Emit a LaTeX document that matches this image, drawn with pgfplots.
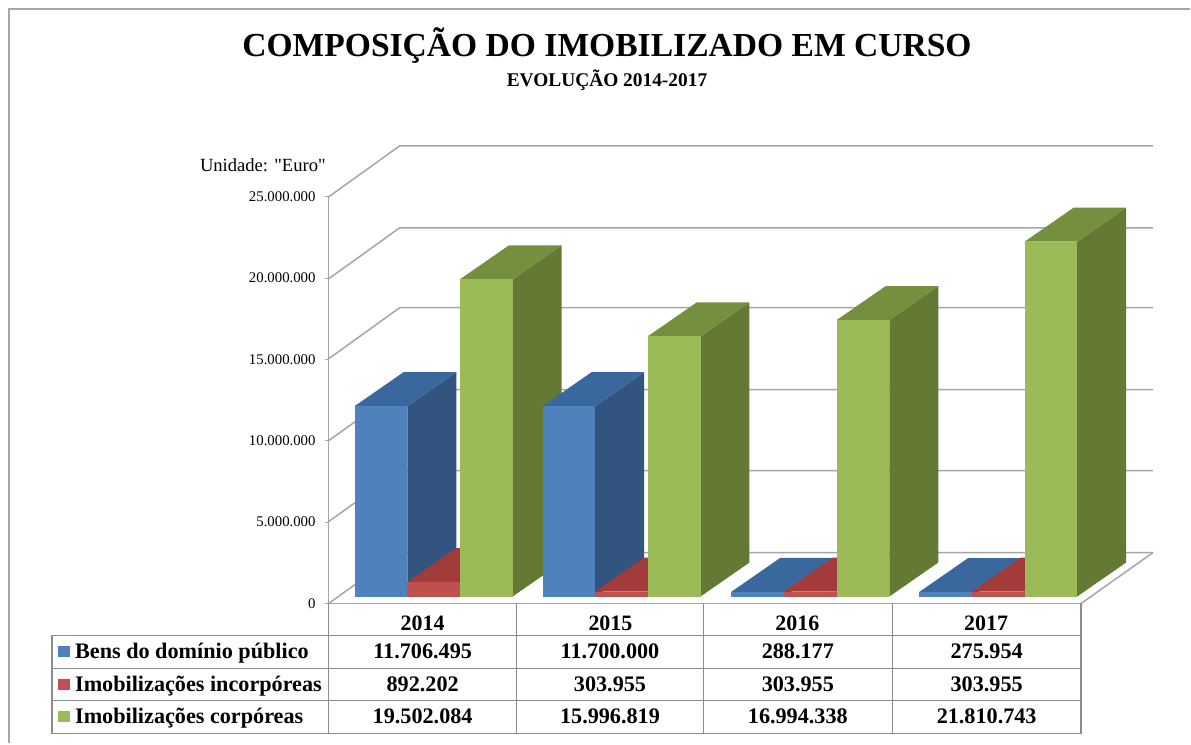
\documentclass[border=0pt]{standalone}
\usepackage{fontspec}
\setmainfont{Liberation Serif}
\newfontfamily\plainf{Liberation Serif}
\usepackage{pgfplots}
\pgfplotsset{compat=1.18}
\definecolor{bf}{HTML}{4F81BD}\definecolor{bs}{HTML}{33547E}\definecolor{bt}{HTML}{3A689E}
\definecolor{rf}{HTML}{C0504D}\definecolor{rs}{HTML}{953735}\definecolor{rt}{HTML}{A23B39}
\definecolor{gf}{HTML}{9BBB59}\definecolor{gs}{HTML}{647A34}\definecolor{gt}{HTML}{748F3D}
\definecolor{ln}{HTML}{A6A6A6}
\definecolor{tl}{HTML}{8C8C8C}
% one 3D column: left edge (px), value (euro), colours of front, side, top
\newcommand\Bar[5]{%
  \edef\xa{\fpeval{#1+52.7}}\edef\xb{\fpeval{#1+52.7+49}}\edef\xc{\fpeval{#1+49}}%
  \edef\ya{\fpeval{34/0.00001628}}\edef\yb{\fpeval{#2+34/0.00001628}}%
  \edef\tmp{%
   \noexpand\addplot[fill=#4,draw=none] coordinates {(\xa,0)(\xb,\ya)(\xb,\yb)(\xa,#2)} --cycle;
   \noexpand\addplot[fill=#5,draw=none] coordinates {(#1,#2)(\xa,#2)(\xb,\yb)(\xc,\yb)} --cycle;
   \noexpand\addplot[fill=#3,draw=none] coordinates {(#1,0)(\xa,0)(\xa,#2)(#1,#2)} --cycle;
  }\tmp}
\newcommand\Group[4]{\Bar{#1}{#2}{bf}{bs}{bt}\Bar{\fpeval{#1+52.7}}{#3}{rf}{rs}{rt}\Bar{\fpeval{#1+105.4}}{#4}{gf}{gs}{gt}}
\begin{document}
\begin{tikzpicture}
\begin{scope}[shift={(-329pt,604pt)},x=1pt,y=-1pt]
  \path[fill=white] (0,0) rectangle (1191,744);
  \draw[ln,line width=2pt] (9.5,744) -- (9.5,9.5) -- (1191,9.5);
  \foreach \b in {146,228,308,390,471,553}{
    \pgfmathsetmacro\f{\b+51}
    \draw[ln,line width=1.5pt] (329,\f) -- (400,\b) -- (1154,\b);
  }
  \draw[ln,line width=1.5pt] (1154,553) -- (1082,604);
\end{scope}
\begin{axis}[
  scale only axis, width=753pt, height=407pt,
  xmin=329, xmax=1082, ymin=-430000, ymax=24570000,
  clip=false, axis x line=bottom, axis y line=left,
  axis line style={-,draw=ln,line width=1.5pt},
  scaled y ticks=false,
  xtick={423,611,798,987}, xticklabels={2014,2015,2016,2017},
  x tick style={draw=none},
  x tick label style={font=\fontsize{22}{22}\selectfont\bfseries,yshift=-5pt},
  ytick={-430000,4570000,9570000,14570000,19570000,24570000},
  yticklabels={0,5.000.000,10.000.000,15.000.000,20.000.000,25.000.000},
  y tick style={draw=ln,line width=1pt}, tick align=outside, major tick length=4pt,
  y tick label style={font=\fontsize{14.8}{14.8}\selectfont,inner sep=1pt,xshift=-8pt},
  no markers,
]
\Group{355}{11706495}{892202}{19502084}
\Group{543}{11700000}{303955}{15996819}
\Group{732}{288177}{303955}{16994338}
\Group{920}{275954}{303955}{21810743}
\end{axis}
\begin{scope}[shift={(-329pt,604pt)},x=1pt,y=-1pt]
  \node[font=\fontsize{33.6}{34}\selectfont\bfseries] at (607.5,46) {COMPOSIÇÃO DO IMOBILIZADO EM CURSO};
  \node[font=\fontsize{19.4}{20}\selectfont\bfseries] at (607.5,80) {EVOLUÇÃO 2014-2017};
  \node[font=\fontsize{18.6}{18}\selectfont\plainf,anchor=west,inner sep=0pt] at (200,165) {Unidade: "Euro"};
  \begin{scope}[tl,line width=1.5pt]
    \draw (52,636) rectangle (1082,734);
    \draw (52,669) -- (1082,669) (52,701) -- (1082,701);
    \foreach \x in {329,517,704,893,1082} \draw (\x,604) -- (\x,734);
  \end{scope}
  \fill[bf] (58,647) rectangle (70,658);
  \fill[rf] (58,680) rectangle (70,691);
  \fill[gf] (58,711.5) rectangle (70,722.5);
  \tikzset{t/.style={font=\fontsize{22.2}{22}\selectfont\bfseries,inner sep=0pt,anchor=base}}
  \node[t,anchor=base west] at (75,659) {Bens do domínio público};
  \node[t,anchor=base west] at (75,692) {Imobilizações incorpóreas};
  \node[t,anchor=base west] at (75,724) {Imobilizações corpóreas};
  \foreach \x/\a/\b/\c in {423/11.706.495/892.202/19.502.084,610.5/11.700.000/303.955/15.996.819,798.5/288.177/303.955/16.994.338,987.5/275.954/303.955/21.810.743}{
    \node[t] at (\x,659) {\a};
    \node[t] at (\x,692) {\b};
    \node[t] at (\x,724) {\c};
  }
\end{scope}
\end{tikzpicture}
\end{document}
